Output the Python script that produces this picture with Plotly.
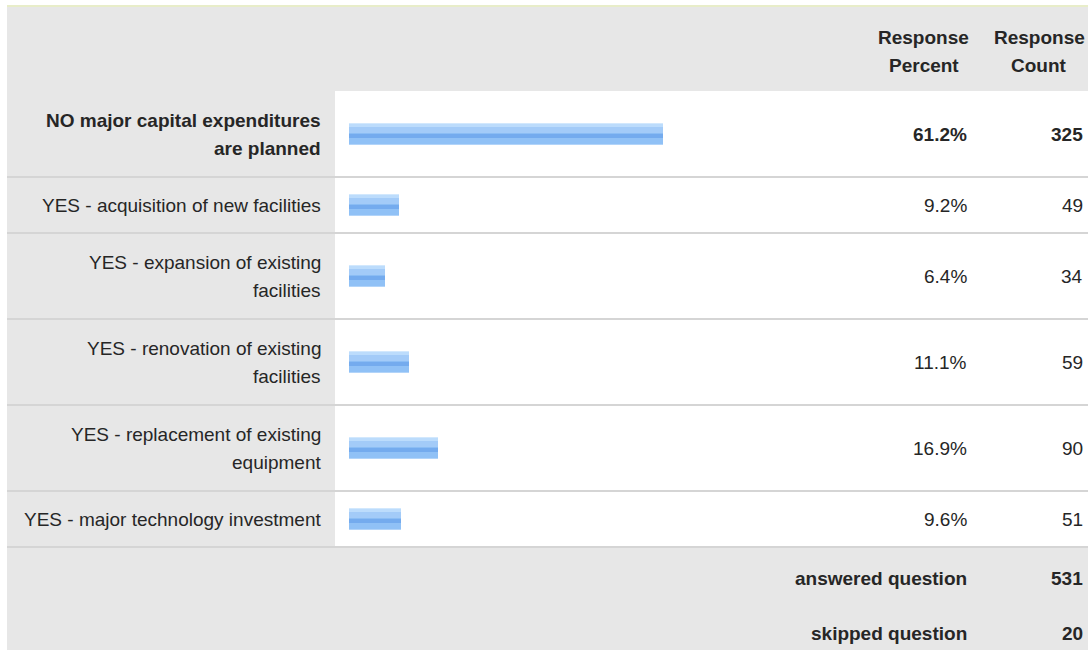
import plotly.graph_objects as go

# ---- survey results -------------------------------------------------------
answer_labels = [
    "NO major capital expenditures<br>are planned",
    "YES - acquisition of new facilities",
    "YES - expansion of existing<br>facilities",
    "YES - renovation of existing<br>facilities",
    "YES - replacement of existing<br>equipment",
    "YES - major technology investment",
]
response_percent = [61.2, 9.2, 6.4, 11.1, 16.9, 9.6]
response_count = [325, 49, 34, 59, 90, 51]
column_headers = ["Response<br>Percent", "Response<br>Count"]
footer_labels = ["answered question", "skipped question"]
footer_values = [531, 20]

# ---- page geometry (pixels) ------------------------------------------------
W, H = 1088, 650
LEFT = 7                 # table left edge
TOP = 7                  # table top edge
HEADER_BOTTOM = 91
LABEL_COL_RIGHT = 335    # grey label column ends here
LABEL_RIGHT = 323        # right edge of answer labels
ZERO_X = 352.3           # where 0 % sits on the bar scale
BAR_PAD = 3.3            # bars start this many pixels left of zero
PX_PER_PCT = 5.077
PCT_RIGHT = 969          # right edge of percent column
CNT_RIGHT = 1085         # right edge of count column
PCT_HEAD_X = 923.5
CNT_HEAD_X = 1039
ROW_H = {1: 56, 2: 86}
LINE_GAP = 28
BAR_H = 22

FONT = "Arial, 'Liberation Sans', sans-serif"
FS = 19
TXT = "#262626"
GREY = "#e7e7e7"
RULE = "#d5d5d5"


def px(x):
    return x / W


# row positions follow from how many lines each label takes
row_top, row_center = [], []
y = HEADER_BOTTOM
for lab in answer_labels:
    h = ROW_H[len(lab.split("<br>"))]
    row_top.append(y)
    row_center.append(y + h / 2)
    y += h
table_bottom = y
footer_centers = [table_bottom + 31, table_bottom + 86]

top_idx = response_percent.index(max(response_percent))

fig = go.Figure()

# gradient bars: each layer covers the bar from its start row down to the
# bottom edge, so later layers paint over earlier ones without seams
layers = [
    # start row measured from the bar's upper edge, colour
    (0, "#d2e8fd"),
    (1, "#bcdcfc"),
    (4, "#a3cbf8"),
    (10, "#8bbdf4"),
    (11, "#74abee"),
    (15, "#90c1f6"),
    (21, "#b2d4f9"),
]
bar_base = -BAR_PAD / PX_PER_PCT
for t0, col in layers:
    thick = BAR_H - t0
    off = t0 + thick / 2 - BAR_H / 2
    fig.add_trace(go.Bar(
        x=[v - bar_base for v in response_percent],
        base=bar_base,
        y=[c + off for c in row_center],
        width=thick,
        orientation="h",
        marker=dict(color=col, line=dict(width=0)),
        hoverinfo="skip",
        showlegend=False,
    ))

shapes = []
# thin top rule
shapes.append(dict(type="rect", xref="paper", yref="y", x0=px(LEFT), x1=1,
                   y0=TOP - 2, y1=TOP, fillcolor="#e8edc9", line_width=0, layer="below"))
# header band
shapes.append(dict(type="rect", xref="paper", yref="y", x0=px(LEFT), x1=1,
                   y0=TOP, y1=HEADER_BOTTOM, fillcolor=GREY, line_width=0, layer="below"))
# label column
shapes.append(dict(type="rect", xref="paper", yref="y", x0=px(LEFT), x1=px(LABEL_COL_RIGHT),
                   y0=HEADER_BOTTOM, y1=table_bottom, fillcolor=GREY, line_width=0, layer="below"))
# footer band
shapes.append(dict(type="rect", xref="paper", yref="y", x0=px(LEFT), x1=1,
                   y0=table_bottom, y1=H, fillcolor=GREY, line_width=0, layer="below"))
# row separators
for t, lab in zip(row_top, answer_labels):
    yb = t + ROW_H[len(lab.split("<br>"))]
    shapes.append(dict(type="rect", xref="paper", yref="y", x0=px(LEFT), x1=1,
                       y0=yb - 1, y1=yb + 1, fillcolor=RULE, line_width=0, layer="below"))

annotations = []


def add_text(text, x, yc, anchor, bold=False):
    lines = text.split("<br>")
    n = len(lines)
    for i, line in enumerate(lines):
        yy = yc + (i - (n - 1) / 2) * LINE_GAP
        annotations.append(dict(
            text=f"<b>{line}</b>" if bold else line,
            xref="paper", yref="y", x=px(x), y=yy,
            xanchor=anchor, yanchor="middle", showarrow=False,
            font=dict(family=FONT, size=FS, color=TXT),
        ))


add_text(column_headers[0], PCT_HEAD_X, (TOP + HEADER_BOTTOM) / 2 + 2, "center", bold=True)
add_text(column_headers[1], CNT_HEAD_X, (TOP + HEADER_BOTTOM) / 2 + 2, "center", bold=True)

for i, (lab, pct, cnt, yc) in enumerate(zip(answer_labels, response_percent,
                                             response_count, row_center)):
    b = i == top_idx
    add_text(lab, LABEL_RIGHT, yc, "right", bold=b)
    add_text(f"{pct:.1f}%", PCT_RIGHT, yc, "right", bold=b)
    add_text(str(cnt), CNT_RIGHT, yc, "right", bold=b)

for lab, val, yc in zip(footer_labels, footer_values, footer_centers):
    add_text(lab, PCT_RIGHT, yc, "right", bold=True)
    add_text(str(val), CNT_RIGHT, yc, "right", bold=True)

fig.update_layout(
    width=W, height=H, autosize=False,
    margin=dict(l=0, r=0, t=0, b=0, pad=0),
    paper_bgcolor="white", plot_bgcolor="white",
    barmode="overlay", bargap=0,
    xaxis=dict(range=[-ZERO_X / PX_PER_PCT, (W - ZERO_X) / PX_PER_PCT],
               domain=[0, 1], visible=False, fixedrange=True),
    yaxis=dict(range=[H, 0], domain=[0, 1], visible=False, fixedrange=True),
    shapes=shapes,
    annotations=annotations,
    showlegend=False,
)

fig.write_html("out.html", config={"displayModeBar": False})
